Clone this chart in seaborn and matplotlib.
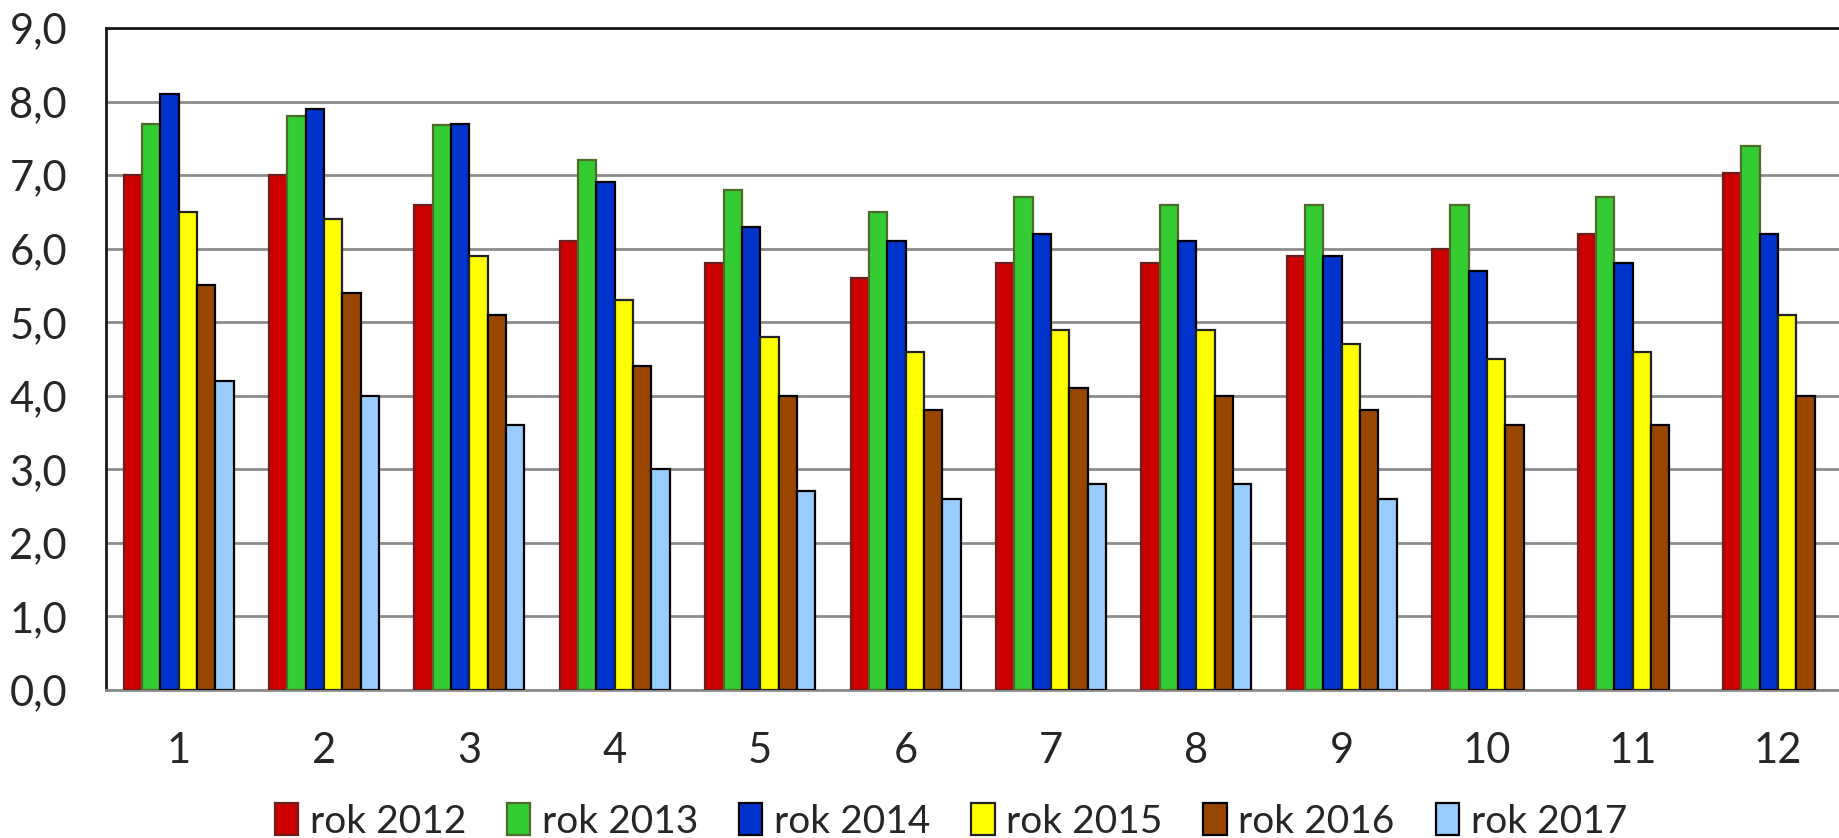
import numpy as np
import pandas as pd
import matplotlib
matplotlib.use("Agg")
import matplotlib.pyplot as plt
from matplotlib.ticker import FuncFormatter
import seaborn as sns

# Data
months = [str(m) for m in range(1, 13)]
years = ["rok 2012", "rok 2013", "rok 2014", "rok 2015", "rok 2016", "rok 2017"]

rok_2012 = [7.0, 7.0, 6.6, 6.1, 5.8, 5.6, 5.8, 5.8, 5.9, 6.0, 6.2, 7.03]
rok_2013 = [7.7, 7.8, 7.68, 7.2, 6.8, 6.5, 6.7, 6.6, 6.6, 6.6, 6.7, 7.4]
rok_2014 = [8.1, 7.9, 7.7, 6.9, 6.3, 6.1, 6.2, 6.1, 5.9, 5.7, 5.8, 6.2]
rok_2015 = [6.5, 6.4, 5.9, 5.3, 4.8, 4.6, 4.9, 4.9, 4.7, 4.5, 4.6, 5.1]
rok_2016 = [5.5, 5.4, 5.1, 4.4, 4.0, 3.8, 4.1, 4.0, 3.8, 3.6, 3.6, 4.0]
rok_2017 = [4.2, 4.0, 3.6, 3.0, 2.7, 2.6, 2.8, 2.8, 2.6, np.nan, np.nan, np.nan]

fill_colors = ["#CC0000", "#33CC33", "#0033CC", "#FFFF00", "#994700", "#99CCFF"]
edge_colors = ["#6B1F1F", "#4F6B2A", "#000000", "#222222", "#000000", "#000000"]

series = [rok_2012, rok_2013, rok_2014, rok_2015, rok_2016, rok_2017]
rows = []
for year, vals in zip(years, series):
    for m, v in zip(months, vals):
        rows.append({"miesiac": m, "rok": year, "wartosc": v})
df = pd.DataFrame(rows)

sns.set_style("white")
plt.rcParams["font.family"] = ["Lato", "DejaVu Sans"]

fig = plt.figure(figsize=(18.39, 8.38), dpi=100)
ax = fig.add_axes([0.0576, 0.1766, 0.9424, 0.79])

sns.barplot(data=df, x="miesiac", y="wartosc", hue="rok", order=months,
            hue_order=years, palette=fill_colors, width=0.757,
            linewidth=1.6, saturation=1, legend=False, ax=ax, zorder=3)

for cont, ec in zip(ax.containers, edge_colors):
    for bar in cont:
        bar.set_edgecolor(ec)

ax.set_ylim(0, 9)
ax.set_yticks(range(0, 10))
ax.yaxis.set_major_formatter(FuncFormatter(lambda v, p: f"{v:.1f}".replace(".", ",")))
ax.set_xlim(-0.5, 11.42)
ax.grid(axis="y", color="#8C8C8C", linewidth=2, zorder=0)
ax.set_axisbelow(True)
ax.set_xlabel("")
ax.set_ylabel("")
ax.tick_params(axis="both", length=0, labelsize=30)
ax.tick_params(axis="y", pad=28)
ax.tick_params(axis="x", pad=30)

for side in ["top", "left"]:
    ax.spines[side].set_color("#1A1A1A")
    ax.spines[side].set_linewidth(2)
ax.spines["bottom"].set_color("#8C8C8C")
ax.spines["bottom"].set_linewidth(2)
ax.spines["right"].set_visible(False)

handles = [plt.Rectangle((0, 0), 1, 1, facecolor=fc, edgecolor=ec, linewidth=1.6)
           for fc, ec in zip(fill_colors, edge_colors)]
fig.legend(handles, years, loc="center", bbox_to_anchor=(0.517, 0.02), ncol=6,
           frameon=False, fontsize=28, handlelength=0.6, handleheight=0.9,
           handletextpad=0.3, columnspacing=1.05)

fig.savefig("out.png", dpi=100)
